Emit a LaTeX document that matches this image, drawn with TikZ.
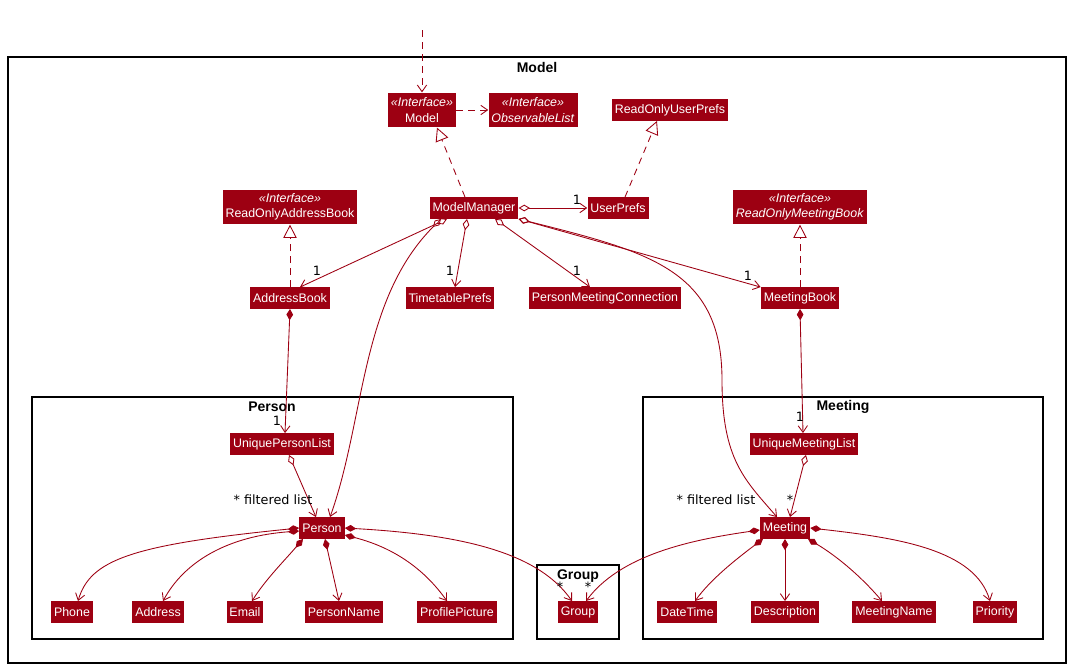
\documentclass[tikz,border=0pt]{standalone}
\usepackage{fontspec}
\setmainfont{Liberation Sans}
\newfontfamily\labelfont{DejaVu Sans}
\usetikzlibrary{arrows.meta}
\definecolor{modelred}{HTML}{9D0012}

\tikzset{
  cls/.style={fill=modelred, text=white, font=\fontsize{9.3}{11.5}\selectfont,
    inner xsep=2.2pt, inner ysep=1.5pt, minimum height=16pt, align=center},
  iface/.style={cls, minimum height=26pt},
  pkg/.style={draw=black, line width=0.9pt},
  pkgtitle/.style={font=\bfseries\fontsize{10.5}{12}\selectfont, inner sep=0pt},
  lbl/.style={font=\labelfont\fontsize{9.6}{10}\selectfont, inner sep=0pt},
  barb/.tip={Straight Barb[length=5pt,width=7pt]},
  assoc/.style={draw=modelred, line width=0.65pt, -barb},
  aggr/.style={assoc, {Diamond[open,length=8.5pt,width=5pt]}-barb},
  comp/.style={assoc, {Diamond[length=8.5pt,width=5pt]}-barb},
  realize/.style={draw=modelred, line width=0.65pt, dash pattern=on 5pt off 4pt,
    -{Triangle[open,length=10pt,width=10pt]}},
  dep/.style={assoc, dash pattern=on 5pt off 4pt},
}

\begin{document}
\begin{tikzpicture}[x=0.75pt,y=-0.75pt]
    \useasboundingbox (0,0) rectangle (1071,669);

    % packages
    \draw[pkg] (8,57) rectangle (1066,663);
    \node[pkgtitle] (modeltitle) at (537,67) {Model};
    \draw[pkg] (32,397) rectangle (513,639);
    \node[pkgtitle] (persontitle) at (272,407) {Person};
    \draw[pkg] (643,397) rectangle (1043,639);
    \node[pkgtitle] (meetingtitle) at (843,407) {Meeting};
    \draw[pkg] (537,565) rectangle (619,639);
    \node[pkgtitle] (grouptitle) at (578,576) {Group};

    % classes
    \node[iface] (model) at (422,110) {\textit{«Interface»}\\Model};
    \node[iface] (obs) at (533,110) {\textit{«Interface»}\\\textit{ObservableList}};
    \node[cls] (roup) at (670,110) {ReadOnlyUserPrefs};
    \node[iface] (roab) at (290,207) {\textit{«Interface»}\\ReadOnlyAddressBook};
    \node[cls] (mm) at (474,208) {ModelManager};
    \node[cls] (up) at (618,208) {UserPrefs};
    \node[iface] (romb) at (800,207) {\textit{«Interface»}\\\textit{ReadOnlyMeetingBook}};
    \node[cls] (ab) at (290,298) {AddressBook};
    \node[cls] (tp) at (450,298) {TimetablePrefs};
    \node[cls] (pmc) at (605,298) {PersonMeetingConnection};
    \node[cls] (mb) at (800,298) {MeetingBook};

    \node[cls] (upl) at (282,444) {UniquePersonList};
    \node[cls] (person) at (322,528) {Person};
    \node[cls] (phone) at (72,612) {Phone};
    \node[cls] (address) at (158,612) {Address};
    \node[cls] (email) at (245,612) {Email};
    \node[cls] (pname) at (344,612) {PersonName};
    \node[cls] (pic) at (457,612) {ProfilePicture};
    \node[cls] (group) at (578,612) {Group};

    \node[cls] (uml) at (804,444) {UniqueMeetingList};
    \node[cls] (meeting) at (785,528) {Meeting};
    \node[cls] (dt) at (687,612) {DateTime};
    \node[cls] (desc) at (785,612) {Description};
    \node[cls] (mname) at (894,612) {MeetingName};
    \node[cls] (prio) at (995,612) {Priority};

    % top level
    \coordinate (entry) at (422,30);
    \draw[dep] (entry) -- (model);
    \draw[dep] (model) -- (obs);
    \draw[realize] (mm.north -| 465,0) -- (model.south -| 437,0);
    \draw[realize] (up.north -| 625,0) -- (roup.south -| 657,0);
    \draw[realize] (ab.north) -- (roab.south);
    \draw[realize] (mb.north) -- (romb.south);

    \draw[aggr] (mm.east) -- (up.west);
    \draw[aggr] (mm.south -| 447,0) -- (ab.north -| 300,0);
    \draw[aggr] (mm.south -| 467,0) -- (tp.north -| 455,0);
    \draw[aggr] (mm.south -| 495,0) -- (pmc.north -| 590,0);
    \draw[aggr] (mm.south east) -- (mb.north west);
    \draw[aggr] (mm.south -| 441,0) .. controls (360,300) and (365,420) .. (person.north -| 330,0);
    \draw[aggr] (mm.south east) .. controls (650,252) and (722,270) .. (722,380)
        .. controls (722,460) and (745,480) .. (meeting.north -| 777,0);

    \draw[comp] (ab.south) -- (upl.north -| 285,0);
    \draw[comp] (mb.south) -- (uml.north -| 803,0);
    \draw[aggr] (upl.south -| 289,0) -- (person.north -| 316,0);
    \draw[aggr] (uml.south -| 806,0) -- (meeting.north -| 790,0);

    % person attributes
    \draw[comp] (person.west |- 0,528) .. controls (130,545) and (90,560) .. (phone.north -| 78,0);
    \draw[comp] (person.west |- 0,531) .. controls (230,536) and (185,560) .. (address.north -| 163,0);
    \draw[comp] (person.south -| 303,0) .. controls (285,560) and (265,580) .. (email.north -| 252,0);
    \draw[comp] (person.south -| 325,0) -- (pname.north -| 339,0);
    \draw[comp] (person.east |- 0,535) .. controls (395,548) and (425,570) .. (pic.north -| 447,0);
    \draw[comp] (person.east |- 0,528) .. controls (470,535) and (540,555) .. (group.north -| 572,0);

    % meeting attributes
    \draw[comp] (meeting.west |- 0,530) .. controls (690,540) and (620,555) .. (group.north -| 586,0);
    \draw[comp] (meeting.south -| 763,0) .. controls (735,560) and (710,580) .. (dt.north -| 695,0);
    \draw[comp] (meeting.south) -- (desc.north);
    \draw[comp] (meeting.south -| 808,0) .. controls (835,555) and (860,575) .. (mname.north -| 882,0);
    \draw[comp] (meeting.east |- 0,528) .. controls (900,538) and (975,550) .. (prio.north -| 990,0);

    % multiplicities
    \node[lbl] (m1) at (577,200) {1};
    \node[lbl] (m2) at (317,271) {1};
    \node[lbl] (m3) at (450,271) {1};
    \node[lbl] (m4) at (577,271) {1};
    \node[lbl] (m5) at (748,276) {1};
    \node[lbl] (m6) at (277,421) {1};
    \node[lbl] (m7) at (800,417) {1};
    \node[lbl] (f1) at (273,500) {* filtered list};
    \node[lbl] (f2) at (716,500) {* filtered list};
    \node[lbl] (m8) at (790,500) {*};
    \node[lbl] (m9) at (560,587) {*};
    \node[lbl] (m10) at (588,587) {*};
\end{tikzpicture}
\end{document}
